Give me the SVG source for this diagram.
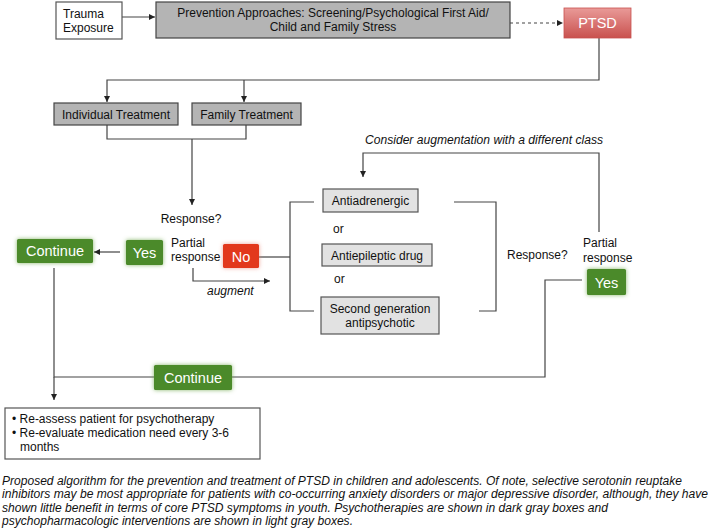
<svg xmlns="http://www.w3.org/2000/svg" width="709" height="531" viewBox="0 0 709 531">
<defs>
<style>
text{font-family:"Liberation Sans",Arial,sans-serif;font-size:12px;fill:#111}
.c{text-anchor:middle}
.w{fill:#fff}
.i{font-style:italic}
.big{font-size:14.5px}
.dark{fill:#b4b4b4;stroke:#444;stroke-width:1.2}
.light{fill:#e2e2e2;stroke:#555;stroke-width:1.2}
.white{fill:#fff;stroke:#555;stroke-width:1.2}
.ln{fill:none;stroke:#444;stroke-width:1.2}
.cap{font-size:12px;font-style:italic;fill:#111}
</style>
<marker id="ah" viewBox="0 0 10 10" refX="10" refY="5" markerWidth="6" markerHeight="6" orient="auto" markerUnits="userSpaceOnUse">
<path d="M0,0 L10,5 L0,10 z" fill="#222"/>
</marker>
<linearGradient id="red" x1="0" y1="0" x2="0" y2="1">
<stop offset="0" stop-color="#e99a98"/>
<stop offset="1" stop-color="#c9514e"/>
</linearGradient>
<filter id="glow" x="-30%" y="-40%" width="160%" height="180%">
<feGaussianBlur in="SourceAlpha" stdDeviation="2.2" result="b"/>
<feFlood flood-color="#6aa446" flood-opacity="0.8"/>
<feComposite in2="b" operator="in" result="g"/>
<feMerge><feMergeNode in="g"/><feMergeNode in="SourceGraphic"/></feMerge>
</filter>
<filter id="glowr" x="-30%" y="-40%" width="160%" height="180%">
<feGaussianBlur in="SourceAlpha" stdDeviation="2" result="b"/>
<feFlood flood-color="#e77a6a" flood-opacity="0.7"/>
<feComposite in2="b" operator="in" result="g"/>
<feMerge><feMergeNode in="g"/><feMergeNode in="SourceGraphic"/></feMerge>
</filter>
</defs>
<rect width="709" height="531" fill="#fff"/>

<g id="connectors">
<path class="ln" d="M122,17 H155" marker-end="url(#ah)"/>
<path class="ln" d="M510,23 H563" stroke-dasharray="3,3" marker-end="url(#ah)"/>
<path class="ln" d="M599,38 V80 H107 V102" marker-end="url(#ah)"/>
<path class="ln" d="M244,80 V102" marker-end="url(#ah)"/>
<path class="ln" d="M107,125 V139 H246 V125"/>
<path class="ln" d="M192,139 V205" marker-end="url(#ah)"/>
<path class="ln" d="M120,252 H94" marker-end="url(#ah)"/>
<path class="ln" d="M259,257 H290"/>
<path class="ln" d="M314,202 H290 V311 H314"/>
<path class="ln" d="M193,268 V281 H270" marker-end="url(#ah)"/>
<path class="ln" d="M454,202 H496 V311 H479"/>
<path class="ln" d="M599,232 V153 H363 V177" marker-end="url(#ah)"/>
<path class="ln" d="M582,280 H545 V377 H54 V268"/>
<path class="ln" d="M54,377 V400" marker-end="url(#ah)"/>
</g>

<g id="trauma">
<rect class="white" x="56" y="2" width="66" height="37"/>
<text x="63" y="18">Trauma</text>
<text x="63" y="32">Exposure</text>
</g>
<g id="prevention">
<rect class="dark" x="156" y="2" width="354" height="36"/>
<text class="c" x="333" y="17">Prevention Approaches: Screening/Psychological First Aid/</text>
<text class="c" x="333" y="31">Child and Family Stress</text>
</g>
<g id="ptsd">
<rect x="564" y="8" width="67" height="30" fill="url(#red)" stroke="#c9514e" stroke-width="0.8"/>
<text class="c w big" x="597.5" y="28">PTSD</text>
</g>
<g id="individual">
<rect class="dark" x="54" y="103" width="124" height="22"/>
<text class="c" x="116" y="119">Individual Treatment</text>
</g>
<g id="family">
<rect class="dark" x="192" y="103" width="109" height="22"/>
<text class="c" x="246.5" y="119">Family Treatment</text>
</g>
<g id="response1">
<text class="c" x="191" y="223">Response?</text>
</g>
<g id="continue1">
<rect x="17" y="239" width="76" height="24" rx="1.5" fill="#4c8a29" filter="url(#glow)"/>
<text class="c w big" x="55" y="256">Continue</text>
</g>
<g id="yes1">
<rect x="126" y="240" width="37" height="25" rx="1.5" fill="#4c8a29" filter="url(#glow)"/>
<text class="c w big" x="144.5" y="258">Yes</text>
</g>
<g id="partial1">
<text x="171" y="247">Partial</text>
<text x="171" y="261">response</text>
</g>
<g id="no">
<rect x="223" y="244" width="36" height="24" rx="1.5" fill="#e2391d" filter="url(#glowr)"/>
<text class="c w big" x="241" y="262">No</text>
</g>
<g id="augment">
<text class="i" x="207" y="295">augment</text>
</g>
<g id="consider">
<text class="i" x="365" y="144" textLength="238" lengthAdjust="spacingAndGlyphs">Consider augmentation with a different class</text>
</g>
<g id="antiadrenergic">
<rect class="light" x="323" y="189" width="95" height="23"/>
<text class="c" x="370.5" y="205">Antiadrenergic</text>
</g>
<g id="or1"><text x="333" y="233">or</text></g>
<g id="antiepileptic">
<rect class="light" x="322" y="244" width="110" height="22"/>
<text class="c" x="377" y="260">Antiepileptic drug</text>
</g>
<g id="or2"><text x="334" y="283">or</text></g>
<g id="sga">
<rect class="light" x="321" y="297" width="118" height="37"/>
<text class="c" x="380" y="313">Second generation</text>
<text class="c" x="380" y="327">antipsychotic</text>
</g>
<g id="response2">
<text x="507" y="259">Response?</text>
</g>
<g id="partial2">
<text x="583" y="247">Partial</text>
<text x="583" y="262">response</text>
</g>
<g id="yes2">
<rect x="587" y="269" width="39" height="26" rx="1.5" fill="#4c8a29" filter="url(#glow)"/>
<text class="c w big" x="606.5" y="288">Yes</text>
</g>
<g id="continue2">
<rect x="154" y="365" width="78" height="25" rx="1.5" fill="#4c8a29" filter="url(#glow)"/>
<text class="c w big" x="193" y="383">Continue</text>
</g>
<g id="reassess">
<rect class="white" x="5" y="408" width="255" height="51"/>
<text x="12" y="423">• Re-assess patient for psychotherapy</text>
<text x="12" y="437">• Re-evaluate medication need every 3-6</text>
<text x="20" y="451">months</text>
</g>
<g id="caption">
<text class="cap" x="2" y="485" textLength="680" lengthAdjust="spacingAndGlyphs">Proposed algorithm for the prevention and treatment of PTSD in children and adolescents. Of note, selective serotonin reuptake</text>
<text class="cap" x="2" y="498" textLength="706" lengthAdjust="spacingAndGlyphs">inhibitors may be most appropriate for patients with co-occurring anxiety disorders or major depressive disorder, although, they have</text>
<text class="cap" x="2" y="512" textLength="606" lengthAdjust="spacingAndGlyphs">shown little benefit in terms of core PTSD symptoms in youth. Psychotherapies are shown in dark gray boxes and</text>
<text class="cap" x="2" y="525" textLength="351" lengthAdjust="spacingAndGlyphs">psychopharmacologic interventions are shown in light gray boxes.</text>
</g>
</svg>
